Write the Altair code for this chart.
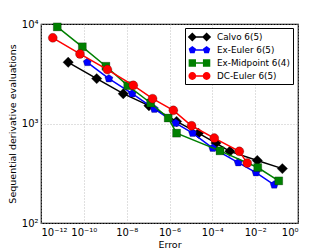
import altair as alt
import pandas as pd

methods = ["Calvo 6(5)", "Ex-Euler 6(5)", "Ex-Midpoint 6(4)", "DC-Euler 6(5)"]
colors = ["#000000", "#0000ff", "#008000", "#ff0000"]

calvo_err = [10**-10.73, 10**-9.40, 10**-8.16, 10**-6.96, 10**-5.67, 10**-4.65, 10**-3.83, 10**-3.18, 10**-1.90, 10**-0.73]
calvo_n = [4120, 2825, 1995, 1510, 1050, 800, 636, 525, 425, 352]

exeuler_err = [10**-9.84, 10**-8.83, 10**-7.74, 10**-6.71, 10**-5.71, 10**-4.92, 10**-3.98, 10**-2.79, 10**-1.96, 10**-1.11]
exeuler_n = [4120, 2825, 1995, 1400, 1011, 801, 566, 405, 321, 242]

exmid_err = [10**-11.24, 10**-10.07, 10**-8.97, 10**-7.95, 10**-6.88, 10**-6.06, 10**-5.67, 10**-3.64, 10**-1.88, 10**-0.90]
exmid_n = [9350, 5900, 3760, 2400, 1607, 1135, 800, 531, 361, 265]

dceuler_err = [10**-11.45, 10**-10.18, 10**-8.90, 10**-7.69, 10**-6.79, 10**-5.82, 10**-4.97, 10**-3.91, 10**-2.74, 10**-2.37]
dceuler_n = [7260, 5000, 3480, 2417, 1777, 1355, 949, 713, 525, 400]

x_tick_values = [1e-12, 1e-10, 1e-8, 1e-6, 1e-4, 1e-2, 1]
x_tick_labels = ["10⁻¹²", "10⁻¹⁰", "10⁻⁸", "10⁻⁶", "10⁻⁴", "10⁻²", "10⁰"]
y_tick_values = [100, 1000, 10000]
y_tick_labels = ["10²", "10³", "10⁴"]

rows = []
for m, errs, ns in zip(methods,
                       [calvo_err, exeuler_err, exmid_err, dceuler_err],
                       [calvo_n, exeuler_n, exmid_n, dceuler_n]):
    for i, (e, n) in enumerate(zip(errs, ns)):
        rows.append({"method": m, "err": e, "n": n, "idx": i})
df = pd.DataFrame(rows)


def label_expr(values, labels):
    expr = "''"
    for v, l in zip(values, labels):
        expr = f"abs(datum.value - {v!r}) < {v!r} * 1e-6 ? '{l}' : ({expr})"
    return expr


FONT = "DejaVu Sans"

PENTAGON = "M0,-1L0.951,-0.309L0.588,0.809L-0.588,0.809L-0.951,-0.309Z"
marker_shapes = ["diamond", PENTAGON, "square", "circle"]
marker_sizes = [110, 72, 64, 81]


def legend_path(kind):
    r = 0.72
    c1, c2 = -0.28, 2.1
    parts = []
    for c in (c1, c2):
        if kind == "diamond":
            s = r * 1.05
            parts.append(f"M{c - s:.3f},0L{c:.3f},{-s:.3f}L{c + s:.3f},0L{c:.3f},{s:.3f}Z")
        elif kind == "square":
            s = r * 0.85
            parts.append(f"M{c - s:.3f},{-s:.3f}L{c + s:.3f},{-s:.3f}L{c + s:.3f},{s:.3f}L{c - s:.3f},{s:.3f}Z")
        elif kind == "pent":
            s = r * 0.9
            pts = [(0, -1), (0.951, -0.309), (0.588, 0.809), (-0.588, 0.809), (-0.951, -0.309)]
            p = "M" + "L".join(f"{c + s * a:.3f},{s * b:.3f}" for a, b in pts) + "Z"
            parts.append(p)
        else:
            s = r * 0.9
            parts.append(f"M{c + s:.3f},0A{s:.3f},{s:.3f} 0 1,1 {c - s:.3f},0A{s:.3f},{s:.3f} 0 1,1 {c + s:.3f},0Z")
    parts.append(f"M{c1:.3f},-0.13L{c2:.3f},-0.13L{c2:.3f},0.13L{c1:.3f},0.13Z")
    return "".join(parts)


legend_paths = [legend_path("diamond"), legend_path("pent"), legend_path("square"), legend_path("circle")]

xscale = alt.Scale(type="log", domain=[1e-12, 1])
yscale = alt.Scale(type="log", domain=[100, 10000])

xenc = alt.X("err:Q", scale=xscale,
             axis=alt.Axis(title="Error", values=x_tick_values,
                           labelExpr=label_expr(x_tick_values, x_tick_labels),
                           grid=True, ticks=False, labelPadding=4, titlePadding=2))
yenc = alt.Y("n:Q", scale=yscale,
             axis=alt.Axis(title="Sequential derivative evaluations", values=y_tick_values,
                           labelExpr=label_expr(y_tick_values, y_tick_labels),
                           grid=True, ticks=False, labelPadding=3, titlePadding=4))

leg = alt.Legend(title=None, orient="none", legendX=144, legendY=4)
color = alt.Color("method:N", scale=alt.Scale(domain=methods, range=colors), legend=leg)

layers = []
for m, shp, sz in zip(methods, marker_shapes, marker_sizes):
    base = alt.Chart(df).transform_filter(alt.datum.method == m)
    layers.append(
        base.mark_line(strokeWidth=1.5).encode(x=xenc, y=yenc, color=color, order="idx:Q")
    )
    layers.append(
        base.mark_point(filled=True, opacity=1, shape=shp, size=sz,
                        stroke="#000000", strokeWidth=0.4, strokeOpacity=0.6)
        .encode(x=xenc, y=yenc, color=color)
    )

legend_layer = alt.Chart(df).transform_filter("false").mark_point(filled=True, opacity=1).encode(
    x=xenc, y=yenc,
    color=color,
    shape=alt.Shape("method:N", scale=alt.Scale(domain=methods, range=legend_paths), legend=leg),
)

chart = alt.layer(*layers, legend_layer).properties(
    width=257, height=199,
    autosize=alt.AutoSizeParams(type="none"),
    padding={"left": 33, "top": 16, "right": 10, "bottom": 26},
).configure_axis(
    labelFont=FONT, titleFont=FONT, labelFontSize=10, titleFontSize=9.5,
    labelColor="black", titleColor="black", titleFontWeight="normal",
    gridColor="#b0b0b0", gridDash=[1, 2], gridWidth=0.8,
    domain=False,
).configure_legend(
    symbolOpacity=1, symbolSize=144, symbolStrokeWidth=0,
    labelFont=FONT, labelFontSize=8.8, labelColor="black",
    strokeColor="black", fillColor="white", padding=3,
    rowPadding=2, labelOffset=17, cornerRadius=0,
).configure_view(stroke="black", strokeWidth=1.2)

chart.save("out.html", embed_options={"renderer": "svg", "actions": False})
